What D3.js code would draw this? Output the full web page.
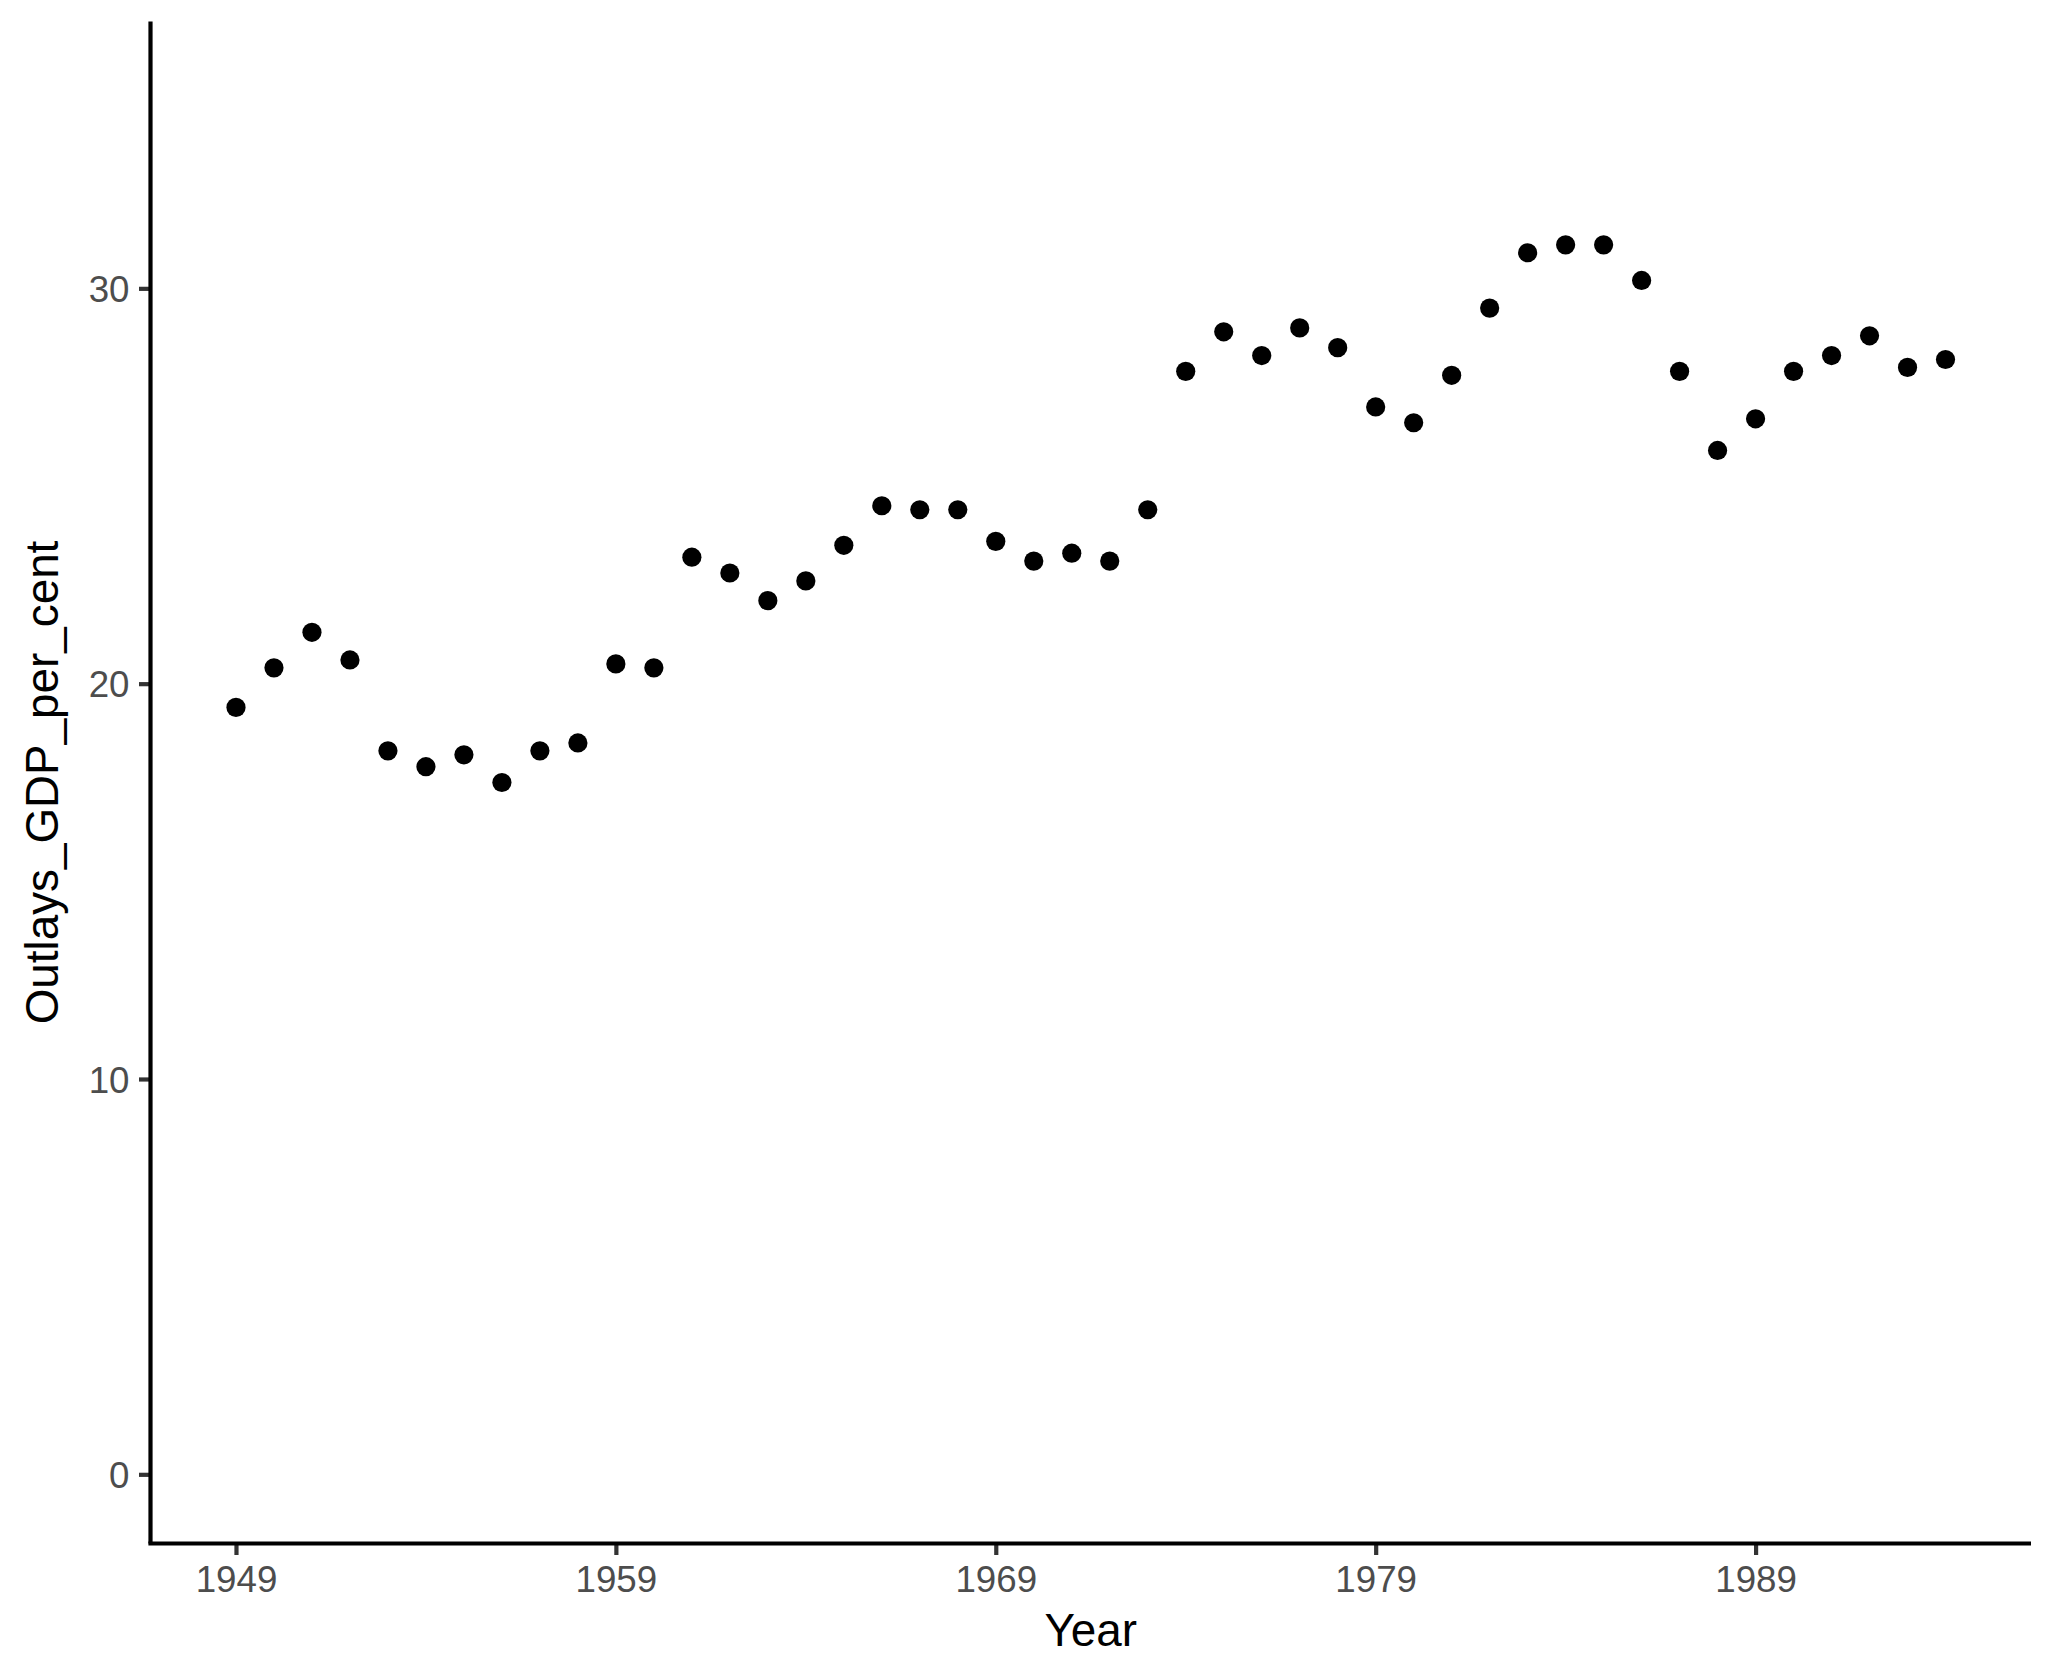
<!DOCTYPE html>
<html>
<head>
<meta charset="utf-8">
<script src="https://cdn.jsdelivr.net/npm/d3@7"></script>
<style>
  html, body { margin: 0; padding: 0; background: #ffffff; }
  svg { display: block; }
</style>
</head>
<body>
<div id="chart"></div>
<script>
// ---- data ----
const years = [1949, 1950, 1951, 1952, 1953, 1954, 1955, 1956, 1957, 1958,
               1959, 1960, 1961, 1962, 1963, 1964, 1965, 1966, 1967, 1968,
               1969, 1970, 1971, 1972, 1973, 1974, 1975, 1976, 1977, 1978,
               1979, 1980, 1981, 1982, 1983, 1984, 1985, 1986, 1987, 1988,
               1989, 1990, 1991, 1992, 1993, 1994];
const outlays = [19.4, 20.4, 21.3, 20.6, 18.3, 17.9, 18.2, 17.5, 18.3, 18.5,
                 20.5, 20.4, 23.2, 22.8, 22.1, 22.6, 23.5, 24.5, 24.4, 24.4,
                 23.6, 23.1, 23.3, 23.1, 24.4, 27.9, 28.9, 28.3, 29.0, 28.5,
                 27.0, 26.6, 27.8, 29.5, 30.9, 31.1, 31.1, 30.2, 27.9, 25.9,
                 26.7, 27.9, 28.3, 28.8, 28.0, 28.2];
const xTicks = [1949, 1959, 1969, 1979, 1989];
const yTicks = [0, 10, 20, 30];
const yLimits = [0, 35];
const xLabel = "Year";
const yLabel = "Outlays_GDP_per_cent";

// ---- layout ----
const W = 2054, H = 1670;
const panel = { left: 150.5, right: 2031, top: 21.5, bottom: 1543.5 };

const svg = d3.select("#chart").append("svg")
  .attr("width", W).attr("height", H)
  .attr("viewBox", `0 0 ${W} ${H}`);

const xMin = d3.min(years), xMax = d3.max(years);
const xPad = (xMax - xMin) * 0.05;
const yPad = (yLimits[1] - yLimits[0]) * 0.05;

const x = d3.scaleLinear()
  .domain([xMin - xPad, xMax + xPad])
  .range([panel.left, panel.right]);
const y = d3.scaleLinear()
  .domain([yLimits[0] - yPad, yLimits[1] + yPad])
  .range([panel.bottom, panel.top]);

const data = years.map((yr, i) => ({ year: yr, value: outlays[i] }));

const font = "'Liberation Sans', Arial, Helvetica, sans-serif";
const tickLen = 11.5;
const lineW = 4.2;

// points
svg.append("g")
  .selectAll("circle")
  .data(data)
  .join("circle")
  .attr("cx", d => x(d.year))
  .attr("cy", d => y(d.value))
  .attr("r", 9.6)
  .attr("fill", "#000000");

// x axis
const xAxis = d3.axisBottom(x)
  .tickValues(xTicks)
  .tickFormat(d3.format("d"))
  .tickSize(tickLen)
  .tickSizeOuter(0)
  .tickPadding(9);
const gx = svg.append("g")
  .attr("transform", `translate(0,${panel.bottom})`)
  .call(xAxis);
gx.select(".domain").remove();
gx.selectAll(".tick line").attr("stroke", "#333333").attr("stroke-width", lineW);
gx.selectAll(".tick text")
  .attr("fill", "#4D4D4D")
  .attr("font-family", font)
  .attr("font-size", 36.7)
  .attr("dy", null)
  .attr("y", 1592 - panel.bottom)
  .attr("dominant-baseline", "alphabetic");

// y axis
const yAxis = d3.axisLeft(y)
  .tickValues(yTicks)
  .tickFormat(d3.format("d"))
  .tickSize(tickLen)
  .tickSizeOuter(0)
  .tickPadding(9.5);
const gy = svg.append("g")
  .attr("transform", `translate(${panel.left},0)`)
  .call(yAxis);
gy.select(".domain").remove();
gy.selectAll(".tick line").attr("stroke", "#333333").attr("stroke-width", lineW);
gy.selectAll(".tick text")
  .attr("fill", "#4D4D4D")
  .attr("font-family", font)
  .attr("font-size", 36.7)
  .attr("dy", "0.36em");

// axis lines (theme_classic)
svg.append("line")
  .attr("x1", panel.left).attr("x2", panel.left)
  .attr("y1", panel.top).attr("y2", panel.bottom)
  .attr("stroke", "#000000").attr("stroke-width", lineW)
  .attr("stroke-linecap", "butt");
svg.append("line")
  .attr("x1", panel.left - lineW / 2).attr("x2", panel.right)
  .attr("y1", panel.bottom).attr("y2", panel.bottom)
  .attr("stroke", "#000000").attr("stroke-width", lineW)
  .attr("stroke-linecap", "butt");

// axis titles
svg.append("text")
  .attr("x", (panel.left + panel.right) / 2)
  .attr("y", 1646)
  .attr("text-anchor", "middle")
  .attr("font-family", font)
  .attr("font-size", 45.8)
  .attr("fill", "#000000")
  .text(xLabel);

svg.append("text")
  .attr("transform", `translate(58,${(panel.top + panel.bottom) / 2}) rotate(-90)`)
  .attr("text-anchor", "middle")
  .attr("font-family", font)
  .attr("font-size", 45.8)
  .attr("fill", "#000000")
  .text(yLabel);
</script>
</body>
</html>
